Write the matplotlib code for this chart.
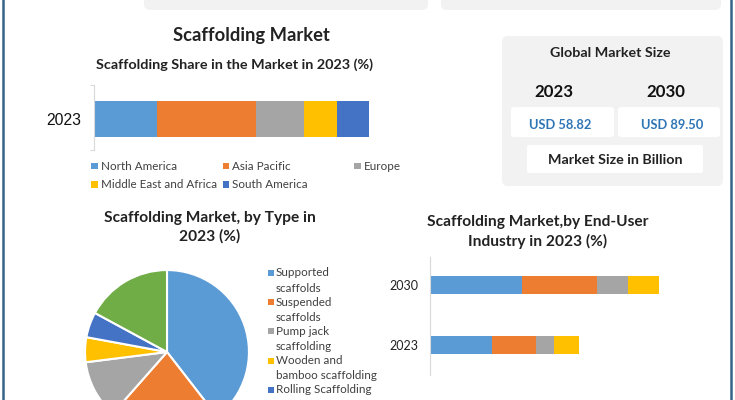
import matplotlib.pyplot as plt
from matplotlib.patches import FancyBboxPatch, Rectangle
from matplotlib.lines import Line2D

# Regional share of the market, 2023 (%)
regions = ["North America", "Asia Pacific", "Europe", "Middle East and Africa", "South America"]
region_share = [22.9, 35.9, 17.6, 11.8, 11.8]

# Market share by scaffolding type, 2023 (%)
types = ["Supported\nscaffolds", "Suspended\nscaffolds", "Pump jack\nscaffolding",
         "Wooden and\nbamboo scaffolding", "Rolling Scaffolding", "Other"]
type_share = [39.5, 22.0, 11.5, 4.9, 5.0, 17.1]

# End-user industry segments (one list per segment: 2023, 2030)
end_years = ["2023", "2030"]
end_segments = [
    [62.0, 92.0],
    [43.5, 75.0],
    [18.5, 30.5],
    [24.5, 31.5],
]

# Global market size (USD billion)
size_years = ["2023", "2030"]
size_values = [58.82, 89.50]

colors = ["#5B9BD5", "#ED7D31", "#A5A5A5", "#FFC000", "#4472C4", "#70AD47"]
FONT = "Lato"
DARK = "#222222"
GREY_TXT = "#404040"

W, H = 735, 400
fig = plt.figure(figsize=(W / 100, H / 100), dpi=100)


def rect(x0, y0, x1, y1):
    # pixel box (top-left origin) -> figure fraction
    return [x0 / W, 1 - y1 / H, (x1 - x0) / W, (y1 - y0) / H]


def ftext(x, y, s, **kw):
    kw.setdefault("family", FONT)
    kw.setdefault("ha", "center")
    kw.setdefault("va", "center")
    fig.text(x / W, 1 - y / H, s, **kw)


def pbox(x0, y0, x1, y1, color, pad=6):
    fig.patches.append(FancyBboxPatch(
        (x0 / 100, (H - y1) / 100), (x1 - x0) / 100, (y1 - y0) / 100,
        boxstyle=f"round,pad=0,rounding_size={pad / 100}",
        transform=fig.dpi_scale_trans, facecolor=color, edgecolor="none"))


def marker(x, y, color, s=7):
    fig.patches.append(Rectangle((x / 100, (H - y - s / 2) / 100), s / 100, s / 100,
                                 transform=fig.dpi_scale_trans, color=color, lw=0))


# frame and top boxes
for xb in (3.3, 730.8):
    fig.add_artist(Line2D([xb / W, xb / W], [0, 1], color="#35648A", lw=1.8))
pbox(144, -10, 428, 10, "#F2F2F2")
pbox(441, -10, 721, 10, "#F2F2F2")

ftext(251, 35, "Scaffolding Market", fontsize=13.2, weight="bold", color=DARK)

# ---- regional share bar ----
ftext(234, 65, "Scaffolding Share in the Market in 2023 (%)", fontsize=10.4,
      weight="bold", color=DARK)
ax1 = fig.add_axes(rect(94, 85, 369, 150))
left = 0
for name, val, col in zip(regions, region_share, colors):
    ax1.barh(0, val, left=left, height=0.56, color=col)
    left += val
ax1.set_xlim(0, sum(region_share))
ax1.set_ylim(-0.48, 0.52)
for sp in ["top", "right", "bottom"]:
    ax1.spines[sp].set_visible(False)
ax1.spines["left"].set_color("#D9D9D9")
ax1.set_xticks([])
ax1.set_yticks([-0.48, 0.52], labels=[])
ax1.tick_params(axis="y", which="major", length=3, color="#D9D9D9")
ax1.set_yticks([0], labels=["2023"], minor=True)
ax1.tick_params(axis="y", which="minor", length=0, pad=9)
for lab in ax1.get_yticklabels(minor=True):
    lab.set_family("Liberation Sans")
    lab.set_fontsize(11.3)
    lab.set_color("#111111")

for i, (name, col) in enumerate(zip(regions, colors)):
    x = 91 + 131.5 * (i % 3)
    y = 166 + 18.5 * (i // 3)
    marker(x, y, col)
    ftext(x + 10, y, name, fontsize=8.4, color=GREY_TXT, ha="left")

# ---- global market size panel ----
pbox(502, 36, 723, 186, "#F2F2F2")
pbox(511, 107, 614, 137, "white", pad=3)
pbox(618, 107, 720, 137, "white", pad=3)
pbox(527, 145, 703, 173, "white", pad=2)
ftext(610, 53, "Global Market Size", fontsize=10.3, weight="bold", color=DARK)
for xc, yr, val in zip([558, 670], size_years, size_values):
    ftext(xc - 4, 92, yr, fontsize=12.2, weight="bold", color="#111111")
    ftext(xc + 2, 125, f"USD {val:.2f}", fontsize=9.3, weight="bold", color="#2E75B6")
ftext(615, 160, "Market Size in Billion", fontsize=10.3, weight="bold", color=DARK)

# ---- pie by type ----
ftext(210, 227.5, "Scaffolding Market, by Type in\n2023 (%)", fontsize=11.2,
      weight="bold", color=DARK, linespacing=1.35)
ax2 = fig.add_axes(rect(83.4, 268.4, 250.6, 435.6))
ax2.pie(type_share, colors=colors, startangle=90, counterclock=False,
        wedgeprops=dict(edgecolor="white", linewidth=1.5))
ax2.set_xlim(-1.02, 1.02)
ax2.set_ylim(-1.02, 1.02)

y = 273
for name, col in zip(types[:5], colors):
    marker(268, y, col, s=6)
    for k, line in enumerate(name.split("\n")):
        ftext(276, y + 15 * k, line, fontsize=8.4, color=GREY_TXT, ha="left")
    y += 29.2

# ---- end-user industry bars ----
ftext(537.5, 232, "Scaffolding Market,by End-User\nIndustry in 2023 (%)", fontsize=11.2,
      weight="bold", color=DARK, linespacing=1.35)
ax3 = fig.add_axes(rect(430, 257, 720, 375))
lefts = [0.0] * len(end_years)
for vals, col in zip(end_segments, colors):
    ax3.barh(range(len(end_years)), vals, left=lefts, height=0.3, color=col)
    lefts = [a + b for a, b in zip(lefts, vals)]
ax3.set_xlim(0, 290)
ax3.set_ylim(-0.5, 1.467)
for sp in ["top", "right", "bottom"]:
    ax3.spines[sp].set_visible(False)
ax3.spines["left"].set_color("#D9D9D9")
ax3.set_xticks([])
ax3.set_yticks(range(len(end_years)), labels=end_years)
ax3.tick_params(axis="y", length=0, pad=8, labelsize=9, labelcolor="#222222")
for lab in ax3.get_yticklabels():
    lab.set_family(FONT)

fig.savefig("out.png", dpi=100)
